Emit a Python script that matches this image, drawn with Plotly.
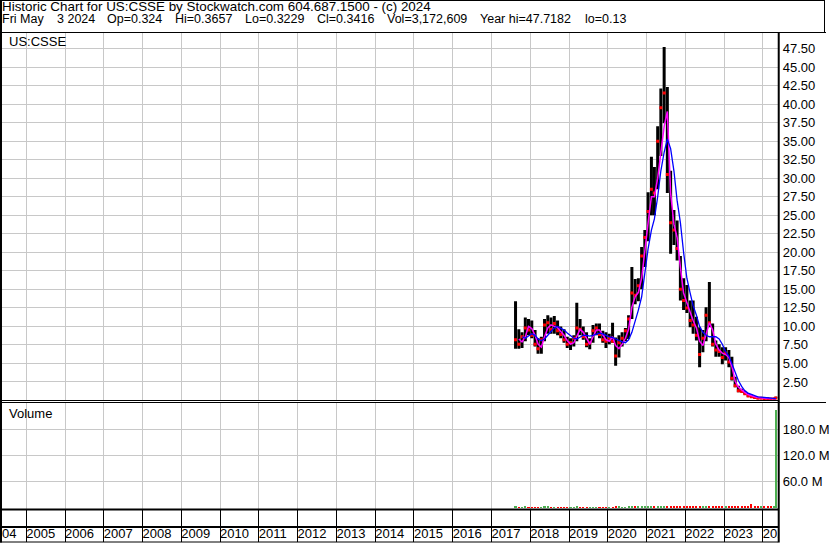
import plotly.graph_objects as go
import pandas as pd

W, H = 830, 543

# ---------------- data (monthly) ----------------
months = [str(p) for p in pd.period_range("2017-08", "2024-04", freq="M")]
bar_dates = [m + "-15" for m in months] + ["2024-05-03"]

highs = [13.4, 9.6, 9.2, 11.2, 11.0,
         10.8, 9.5, 8.4, 8.6, 11.0, 11.5, 11.2, 11.4, 10.8, 10.0, 9.6, 8.6,
         8.4, 8.8, 13.2, 11.0, 10.0, 9.2, 8.4, 10.2, 10.4, 10.4, 9.4, 9.2,
         9.0, 10.5, 8.5, 8.8, 9.2, 9.8, 11.5, 18.0, 16.4, 16.5, 20.7, 23.0,
         28.1, 32.9, 31.5, 37.0, 42.1, 47.7, 42.3, 31.0, 25.7, 24.3, 19.5, 16.5,
         15.6, 13.5, 13.5, 11.3, 9.9, 9.5, 12.6, 16.0, 10.4, 8.1, 7.6, 7.2,
         7.2, 6.8, 5.9, 3.2, 2.0, 1.6, 1.3, 1.0, 0.8, 0.6, 0.5, 0.45,
         0.4, 0.4, 0.35, 0.3, 0.5]
lows = [7.0, 7.0, 7.1, 8.0, 8.8,
        8.4, 7.3, 6.3, 6.3, 8.0, 9.0, 9.0, 9.0, 8.8, 8.4, 7.8, 7.1,
        6.8, 7.3, 8.0, 8.8, 8.2, 7.2, 6.9, 7.8, 8.8, 8.4, 7.8, 7.1,
        7.6, 7.8, 4.7, 5.8, 7.3, 8.0, 8.3, 11.0, 13.0, 13.4, 15.0, 18.0,
        21.5, 25.0, 25.0, 28.5, 33.0, 37.4, 28.0, 19.8, 21.0, 18.9, 13.5, 12.2,
        11.8, 9.9, 9.0, 8.1, 4.5, 6.5, 8.0, 9.9, 7.3, 5.9, 5.9, 4.9,
        5.4, 4.5, 2.7, 1.8, 1.1, 1.1, 0.8, 0.5, 0.4, 0.3, 0.25, 0.2,
        0.2, 0.2, 0.15, 0.13, 0.32]
closes = [8.2, 7.6, 8.6, 9.8, 9.5,
          8.8, 7.6, 7.0, 8.2, 10.2, 10.5, 9.6, 10.4, 9.4, 8.9, 8.2, 7.6,
          7.8, 8.4, 9.8, 9.6, 8.6, 7.6, 7.8, 9.4, 9.8, 8.9, 8.2, 8.0,
          8.4, 8.0, 6.0, 7.8, 8.4, 9.4, 11.0, 14.5, 14.2, 15.5, 19.5, 22.0,
          25.5, 28.5, 28.0, 35.0, 39.5, 41.5, 30.5, 24.0, 23.0, 20.5, 15.0, 13.5,
          12.5, 10.8, 10.2, 8.8, 6.2, 8.4, 11.5, 10.5, 7.6, 6.8, 6.6, 5.8,
          6.4, 5.2, 3.0, 2.0, 1.3, 1.2, 0.9, 0.6, 0.5, 0.4, 0.3, 0.3,
          0.28, 0.25, 0.2, 0.22, 0.3416]
ma_fast = [None, 8.3, 7.9, 8.6, 10.0,
           9.7, 8.8, 7.6, 7.2, 8.6, 9.8, 10.2, 10.0, 9.8, 9.3, 8.8, 8.1,
           7.6, 7.8, 8.6, 9.6, 9.2, 8.3, 7.6, 8.6, 9.5, 9.5, 8.8, 8.2,
           8.0, 8.6, 7.4, 7.0, 7.6, 8.4, 9.6, 12.6, 14.0, 14.6, 16.5, 19.8,
           24.0, 27.5, 27.5, 30.0, 33.5, 37.0, 39.0, 28.0, 23.8, 22.0, 18.0, 14.5,
           13.2, 11.8, 10.8, 9.8, 8.0, 7.4, 9.0, 10.5, 9.5, 7.6, 6.8, 6.4,
           6.2, 5.8, 4.6, 2.6, 1.8, 1.4, 1.1, 0.8, 0.6, 0.5, 0.4, 0.3,
           0.3, 0.27, 0.24, 0.22, 0.25]
ma_slow = [None, None, 8.6, 8.4, 8.7,
           9.0, 8.8, 8.3, 8.1, 8.3, 8.8, 9.3, 9.8, 10.0, 9.8, 9.5, 9.1,
           8.7, 8.4, 8.3, 8.6, 8.8, 8.8, 8.7, 8.8, 9.0, 9.1, 9.0, 8.8,
           8.6, 8.5, 8.3, 8.1, 7.9, 7.8, 8.2, 9.2, 10.6, 12.2, 14.0, 17.5,
           20.5, 23.0, 24.5, 27.5, 31.0, 33.5, 35.3, 34.0, 31.0, 27.0, 24.0, 20.0,
           16.5, 14.5, 12.8, 11.5, 10.0, 9.2, 8.8, 8.6, 8.6, 8.6, 8.3, 7.6,
           6.6, 6.0, 5.0, 3.8, 2.7, 1.9, 1.3, 1.0, 0.8, 0.6, 0.5, 0.45,
           0.4, 0.35, 0.3, 0.25, 0.25]
volume_m = [4, 2, 2, 3, 2,
            2, 2, 2, 2, 3, 3, 2, 2, 2, 2, 2, 2,
            2, 2, 4, 2, 2, 2, 2, 2, 2, 2, 2, 2,
            2, 2, 4, 3, 2, 2, 3, 5, 3, 3, 4, 4,
            4, 4, 3, 3, 4, 5, 4, 4, 3, 3, 3, 3,
            3, 3, 5, 3, 4, 3, 4, 5, 3, 3, 3, 3,
            3, 3, 4, 4, 3, 3, 3, 3, 10, 3, 3, 3,
            3, 3, 3, 4, 223]

price_ticks = [2.5, 5.0, 7.5, 10.0, 12.5, 15.0, 17.5, 20.0, 22.5, 25.0, 27.5,
               30.0, 32.5, 35.0, 37.5, 40.0, 42.5, 45.0, 47.5]
vol_ticks = [60e6, 120e6, 180e6]
vol_tick_text = ["60.0 M", "120.0 M", "180.0 M"]
year_labels = [str(y) for y in range(2004, 2025)]

header1 = "Historic Chart for US:CSSE by Stockwatch.com 604.687.1500 - (c) 2024"
header2_fields = ["Fri May", "3 2024", "Op=0.324", "Hi=0.3657", "Lo=0.3229",
                  "Cl=0.3416", "Vol=3,172,609", "Year hi=47.7182", "lo=0.13"]

# ---------------- helpers ----------------
FONT = "Arial, Liberation Sans, sans-serif"
def px(x):
    return x / W
def py(y):
    return 1 - y / H

x_range = ["2004-05-17", "2024-05-20"]

# ---------------- traces ----------------
bx, by = [], []
for d, lo, hi in zip(bar_dates, lows, highs):
    bx += [d, d, None]
    by += [lo, hi, None]

fig = go.Figure()
fig.add_trace(go.Scatter(x=bx, y=by, mode="lines", line=dict(color="black", width=3),
                         xaxis="x", yaxis="y", hoverinfo="skip", showlegend=False))
fig.add_trace(go.Scatter(x=bar_dates, y=closes, mode="markers",
                         marker=dict(color="#ff0000", size=3, symbol="square"),
                         xaxis="x", yaxis="y", showlegend=False))
fig.add_trace(go.Scatter(x=bar_dates, y=ma_fast, mode="lines",
                         line=dict(color="#ff00ff", width=1.5),
                         xaxis="x", yaxis="y", showlegend=False))
fig.add_trace(go.Scatter(x=bar_dates, y=ma_slow, mode="lines",
                         line=dict(color="#0000ff", width=1.3),
                         xaxis="x", yaxis="y", showlegend=False))

vol_colors = ["#4caf50" if i == 0 or c >= closes[i - 1] else "#ff0000"
              for i, c in enumerate(closes)]
fig.add_trace(go.Bar(x=bar_dates, y=[v * 1e6 for v in volume_m],
                     marker=dict(color=vol_colors, line=dict(width=0)),
                     width=20 * 86400000, xaxis="x2", yaxis="y2", showlegend=False))

year_dates = [f"{y}-01-01" for y in year_labels]
fig.add_trace(go.Scatter(x=year_dates, y=[0.23] * len(year_dates), mode="text",
                         text=year_labels, textposition="middle right",
                         textfont=dict(family=FONT, size=13, color="black"),
                         xaxis="x3", yaxis="y3", showlegend=False, cliponaxis=True))

# ---------------- layout ----------------
grid = "#c8c8c8"
xcommon = dict(type="date", range=x_range, tick0="2004-01-01", dtick="M12",
               showticklabels=False, ticks="", zeroline=False, showline=False,
               domain=[px(2), px(781.5)])
fig.update_layout(
    width=W, height=H, autosize=False,
    margin=dict(l=0, r=0, t=0, b=0, pad=0),
    paper_bgcolor="white", plot_bgcolor="white",
    font=dict(family=FONT, size=13, color="black"),
    showlegend=False,
    bargap=0,
    xaxis=dict(**xcommon, anchor="y", showgrid=True, gridcolor=grid, gridwidth=1),
    yaxis=dict(domain=[py(400.5), py(33)], range=[0, 367.5 / 7.41], side="right",
               anchor="x", tickvals=price_ticks,
               ticktext=[f"{v:.2f}" for v in price_ticks],
               showgrid=True, gridcolor=grid, gridwidth=1, zeroline=False,
               ticks="", ticklabelstandoff=4, showline=False,
               tickfont=dict(family=FONT, size=13, color="black")),
    xaxis2=dict(**xcommon, anchor="y2", matches="x", showgrid=True, gridcolor=grid, gridwidth=1),
    yaxis2=dict(domain=[py(509.5), py(403)], range=[-3.42e6, 239.5e6], side="right",
                anchor="x2", tickvals=vol_ticks, ticktext=vol_tick_text,
                showgrid=True, gridcolor=grid, gridwidth=1, zeroline=False,
                ticks="", ticklabelstandoff=4, showline=False,
                tickfont=dict(family=FONT, size=13, color="black")),
    xaxis3=dict(**xcommon, anchor="y3", matches="x", showgrid=True, gridcolor="black", gridwidth=1),
    yaxis3=dict(domain=[py(542), py(509.5)], range=[0, 1], showgrid=False,
                showticklabels=False, zeroline=False, ticks="", anchor="x3"),
)

def hline(y, x0, x1, w=1):
    return dict(type="line", xref="paper", yref="paper", x0=px(x0), x1=px(x1),
                y0=py(y), y1=py(y), line=dict(color="black", width=w), layer="above")
def vline(x, y0, y1, w=1):
    return dict(type="line", xref="paper", yref="paper", x0=px(x), x1=px(x),
                y0=py(y0), y1=py(y1), line=dict(color="black", width=w), layer="above")

shapes = [
    vline(1, 0, 542.5, 2),          # left border
    hline(0.5, 0, 828.5, 1),        # header top
    vline(828.5, 0, 32.5, 1),       # header right
    hline(32.5, 0, 830, 1),         # header bottom
    vline(782.5, 32.5, 542.5, 2),   # plot right border
    hline(400.5, 0, 782, 1),        # price bottom
    hline(402.5, 0, 830, 1),        # volume top
    hline(509.5, 0, 782, 2),        # volume bottom
    hline(527, 0, 782, 2),          # strip separator
    hline(542, 0, 782, 1),          # bottom
]
fig.update_layout(shapes=shapes)

# header line 2 field start positions (pixels)
header2_x = [1.5, 55.9, 107, 175.2, 245.4, 317.6, 387.8, 481.5, 586.4]

ann = [dict(text=header1, x=px(1.5), y=py(6.5), size=13.4),
       dict(text="US:CSSE", x=px(8), y=py(41.2), size=13),
       dict(text="Volume", x=px(8), y=py(413.7), size=13)]
for t, xx in zip(header2_fields, header2_x):
    ann.append(dict(text=t, x=px(xx), y=py(19.5), size=12.5))

fig.update_layout(annotations=[
    dict(text=a["text"], x=a["x"], y=a["y"], xref="paper", yref="paper",
         xanchor="left", yanchor="middle", showarrow=False,
         font=dict(family=FONT, size=a["size"], color="black"), borderpad=0)
    for a in ann
])

fig.write_html("out.html", config={"displayModeBar": False},
               post_script="document.body.style.margin='0px';document.body.style.overflow='hidden';")
